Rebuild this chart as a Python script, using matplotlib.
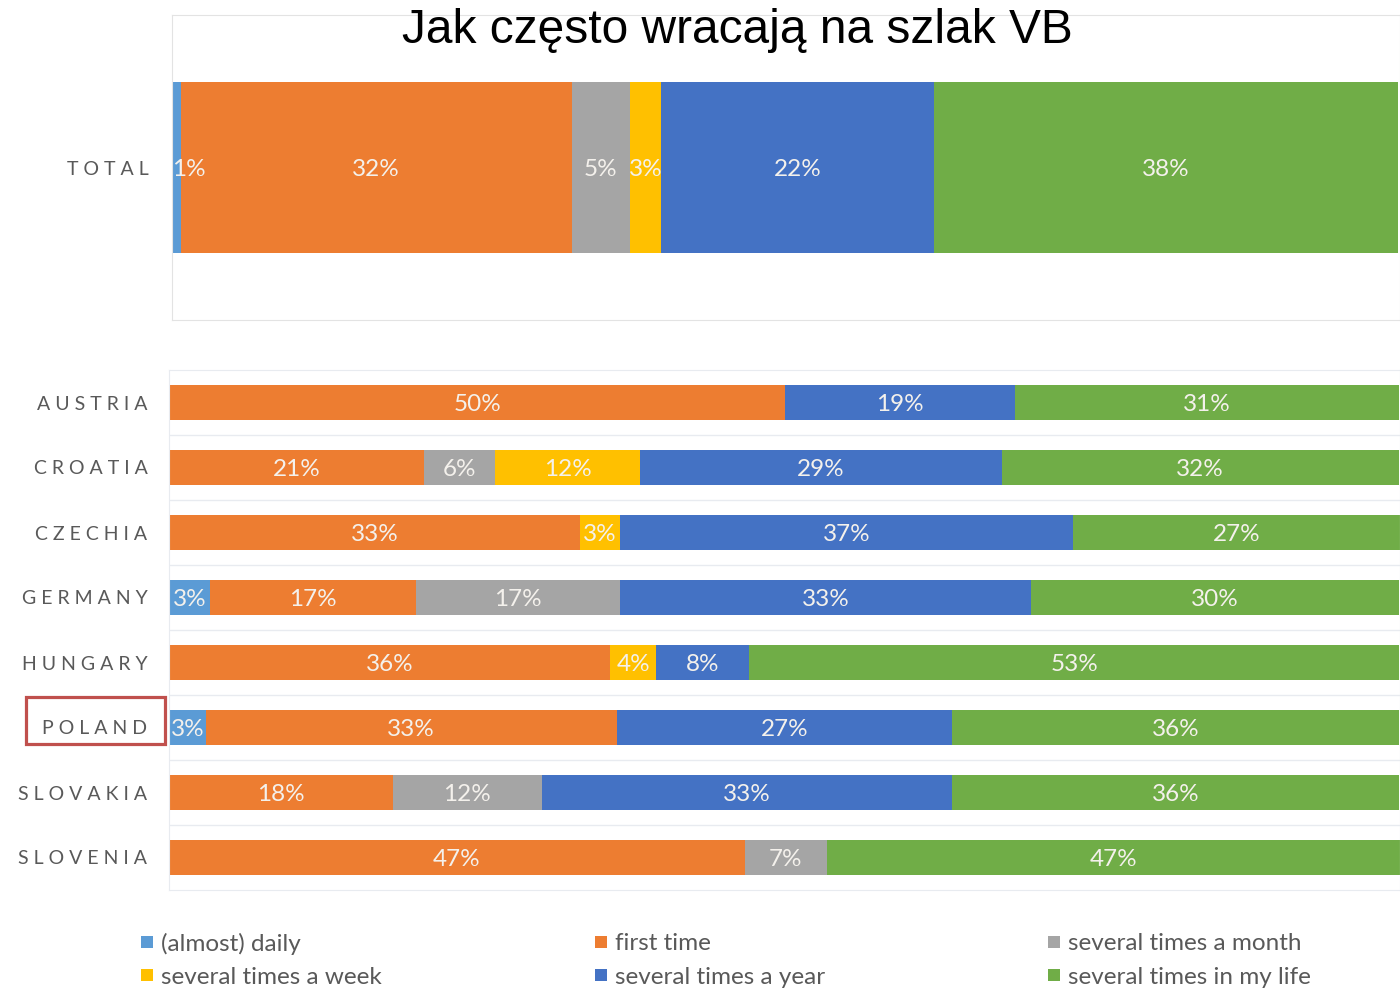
import matplotlib.pyplot as plt
from matplotlib.patches import Rectangle
import numpy as np

plt.rcParams['font.family'] = ['Lato', 'DejaVu Sans']

# kategorie (kolejnosc segmentow)
categories = ['(almost) daily', 'first time', 'several times a month',
              'several times a week', 'several times a year', 'several times in my life']
colors = ['#5B9BD5', '#ED7D31', '#A5A5A5', '#FFC000', '#4472C4', '#70AD47']

# TOTAL, w %
total = [0.7, 31.9, 4.7, 2.6, 22.2, 37.8]

countries = ['AUSTRIA', 'CROATIA', 'CZECHIA', 'GERMANY', 'HUNGARY', 'POLAND', 'SLOVAKIA', 'SLOVENIA']
daily = [0, 0, 0, 3.3, 0, 3.0, 0, 0]
first = [50.1, 20.7, 33.4, 16.8, 35.9, 33.4, 18.2, 46.8]
month = [0, 5.8, 0, 16.6, 0, 0, 12.1, 6.7]
week = [0, 11.8, 3.3, 0, 3.7, 0, 0, 0]
year = [18.7, 29.4, 36.8, 33.4, 7.6, 27.3, 33.4, 0]
life = [31.2, 32.3, 26.6, 29.9, 52.8, 36.3, 36.3, 46.6]
series = [daily, first, month, week, year, life]

label_gray = '#595959'
pct_color = '#F4F1EC'
W, H = 1400, 990
fig = plt.figure(figsize=(14, 9.9), dpi=100)


def spaced(s):
    return ' '.join(s)


# --- gorny panel: TOTAL
ax1 = fig.add_axes([172 / W, 1 - 320 / H, (W - 172) / W, (320 - 15) / H])
left = 0
for v, c in zip(total, colors):
    ax1.barh(0, v, left=left, height=0.56, color=c)
    if v < 2:
        # za waski segment - etykieta od lewej krawedzi
        ax1.text(left, 0, f'{round(v):.0f}%', ha='left', va='center_baseline',
                 color=pct_color, fontsize=17.5)
    else:
        ax1.text(left + v / 2, 0, f'{round(v):.0f}%', ha='center', va='center_baseline',
                 color=pct_color, fontsize=17.5)
    left += v
ax1.set_xlim(0, 100.1)
ax1.set_ylim(-0.5, 0.5)
ax1.set_xticks([])
ax1.set_yticks([0])
ax1.set_yticklabels([spaced('TOTAL')], fontsize=14, color=label_gray)
ax1.tick_params(axis='y', length=0, pad=17)
for s in ax1.spines.values():
    s.set_color('#E3E3E3')

# --- dolny panel: kraje
ax2 = fig.add_axes([169 / W, 1 - 890 / H, (W - 169) / W, (890 - 370) / H])
y = np.arange(len(countries))
left = np.zeros(len(countries))
for vals, c in zip(series, colors):
    vals = np.array(vals)
    ax2.barh(y, vals, left=left, height=0.54, color=c)
    for i in range(len(countries)):
        if vals[i] > 0:
            ax2.text(left[i] + vals[i] / 2, y[i], f'{round(vals[i]):.0f}%', ha='center',
                     va='center_baseline', color=pct_color, fontsize=17.5)
    left += vals
for k in range(len(countries) - 1):
    ax2.axhline(k + 0.5, color='#E8EBF0', lw=1, zorder=0)
ax2.set_xlim(0, 100.1)
ax2.set_ylim(len(countries) - 0.5, -0.5)
ax2.set_xticks([])
ax2.set_yticks(y)
ax2.set_yticklabels([spaced(c) for c in countries], fontsize=14, color=label_gray)
ax2.tick_params(axis='y', length=0, pad=15.5)
for s in ax2.spines.values():
    s.set_color('#E8EBF0')

# ramka wokol POLAND
fig.patches.append(Rectangle((26 / W, 1 - 744 / H), (165 - 26) / W, (744 - 697) / H,
                             transform=fig.transFigure, fill=False,
                             edgecolor='#C0504D', lw=2.3))

fig.text(737 / W, 1 - 43 / H, 'Jak często wracają na szlak VB', ha='center', va='baseline',
         fontsize=34.5, family='Liberation Sans', color='black')

# legenda (kolumnami)
leg_x = [141, 595, 1048]
leg_y = [942, 975]
for i in range(len(categories)):
    col, row = [(0, 0), (1, 0), (2, 0), (0, 1), (1, 1), (2, 1)][i]
    lx, ly = leg_x[col], leg_y[row]
    fig.patches.append(Rectangle((lx / W, 1 - (ly + 6) / H), 12 / W, 12 / H,
                                 transform=fig.transFigure, color=colors[i], lw=0))
    fig.text((lx + 20) / W, 1 - ly / H, categories[i], ha='left', va='center_baseline',
             fontsize=17.5, color=label_gray)

fig.savefig('out.png', dpi=100)
